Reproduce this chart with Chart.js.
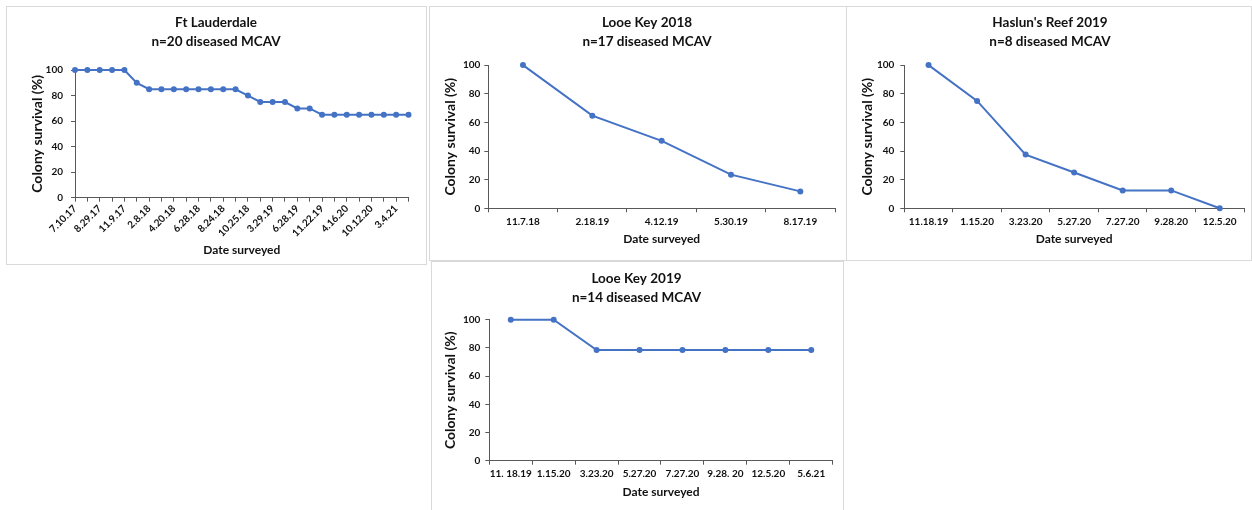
<!DOCTYPE html>
<html>
<head>
<meta charset="utf-8">
<script src="https://cdn.jsdelivr.net/npm/chart.js@4.4.1/dist/chart.umd.min.js"></script>
<style>
  html, body { margin: 0; padding: 0; background: #fff; }
  body { width: 1252px; height: 510px; position: relative; overflow: hidden; }
  .panel { position: absolute; box-sizing: border-box; border: 1px solid #d9d9d9; background: #fff; }
  .panel canvas { display: block; }
</style>
</head>
<body>
<div class="panel" style="left:6px;top:6px;width:421px;height:259px"><canvas id="ftl" width="419" height="257"></canvas></div>
<div class="panel" style="left:429px;top:6px;width:418px;height:255px"><canvas id="lk18" width="416" height="253"></canvas></div>
<div class="panel" style="left:846px;top:6px;width:406px;height:255px"><canvas id="hr19" width="404" height="253"></canvas></div>
<div class="panel" style="left:431px;top:261px;width:413px;height:252px"><canvas id="lk19" width="411" height="250"></canvas></div>

<script>
/* ─── Data ───────────────────────────────────────────────────────────────── */
// Ft Lauderdale: 28 surveys, only every second date is labelled on the axis
const ftlDates    = ['7.10.17', '8.29.17', '11.9.17', '2.8.18', '4.20.18', '6.28.18', '8.24.18',
                     '10.25.18', '3.29.19', '6.28.19', '11.22.19', '4.16.20', '10.12.20', '3.4.21'];
const ftlSurvival = [100, 100, 100, 100, 100, 90, 85, 85, 85, 85, 85, 85, 85, 85,
                     80, 75, 75, 75, 70, 70, 65, 65, 65, 65, 65, 65, 65, 65];

const lk18Dates    = ['11.7.18', '2.18.19', '4.12.19', '5.30.19', '8.17.19'];
const lk18Survival = [100, 64.7, 47.1, 23.5, 11.8];

const hr19Dates    = ['11.18.19', '1.15.20', '3.23.20', '5.27.20', '7.27.20', '9.28.20', '12.5.20'];
const hr19Survival = [100, 75, 37.5, 25, 12.5, 12.5, 0];

const lk19Dates    = ['11. 18.19', '1.15.20', '3.23.20', '5.27.20', '7.27.20', '9.28. 20', '12.5.20', '5.6.21'];
const lk19Survival = [100, 100, 78.6, 78.6, 78.6, 78.6, 78.6, 78.6];

const yTicks = [0, 20, 40, 60, 80, 100];

const ftlCategories = ftlSurvival.map((_, i) => (i % 2 ? '' : ftlDates[i / 2]));

/* ─── Style ──────────────────────────────────────────────────────────────── */
const BLUE = '#4472C4';
const INK  = '#111111';
const AXIS = '#595959';
const FONT = 'Lato, "Open Sans", sans-serif';

function makeChart(id, titleLines, labels, values, lay) {
  new Chart(document.getElementById(id), {
    type: 'line',
    data: {
      labels,
      datasets: [{
        data: values,
        borderColor: BLUE,
        backgroundColor: BLUE,
        borderWidth: 2,
        tension: 0,
        clip: false,
        pointRadius: 3,
        pointBorderWidth: 0,
        pointBackgroundColor: BLUE
      }]
    },
    options: {
      responsive: false,
      animation: false,
      devicePixelRatio: 1,
      layout: { padding: { left: lay.padL, right: lay.padR, top: 0, bottom: lay.padB } },
      plugins: {
        legend: { display: false },
        tooltip: { enabled: false },
        title: {
          display: true,
          text: titleLines,
          color: INK,
          font: { family: FONT, size: 13.5, weight: 'bold', lineHeight: 1.4 },
          padding: { top: lay.titleTop, bottom: lay.titleBottom }
        }
      },
      scales: {
        x: {
          offset: lay.offset,
          border: { display: true, color: AXIS, width: 1 },
          grid: { display: true, drawOnChartArea: false, drawTicks: true, tickLength: 4,
                  color: AXIS, offset: lay.offset },
          ticks: {
            autoSkip: false,
            minRotation: lay.rot, maxRotation: lay.rot,
            padding: lay.rot ? 1 : 3,
            color: INK,
            font: { family: FONT, size: 10, weight: 'bold' }
          },
          title: {
            display: true, text: 'Date surveyed', color: INK,
            font: { family: FONT, size: 12, weight: 'bold', lineHeight: 1.2 },
            padding: { top: 4, bottom: 3.4 }
          },
          afterFit: s => { s.height = lay.xH; }
        },
        y: {
          min: 0, max: 100,
          afterBuildTicks: s => { s.ticks = yTicks.map(v => ({ value: v })); },
          border: { display: true, color: AXIS, width: 1 },
          grid: { display: true, drawOnChartArea: false, drawTicks: true, tickLength: 4, color: AXIS },
          ticks: {
            padding: lay.yTickPad,
            color: INK,
            font: { family: FONT, size: 10, weight: 'bold' }
          },
          title: {
            display: true, text: 'Colony survival (%)', color: INK,
            font: { family: FONT, size: 14, weight: 'bold', lineHeight: 1.2 },
            padding: { top: lay.yTitlePad - 1.8, bottom: 4 }
          },
          afterFit: s => { s.width = lay.yW; }
        }
      }
    }
  });
}

/* ─── Panels ─────────────────────────────────────────────────────────────── */
makeChart('ftl', ['Ft Lauderdale', 'n=20 diseased MCAV'], ftlCategories, ftlSurvival, {
  padL: 16.5, padR: 17.5, padB: 3.4, titleTop: 6.6, titleBottom: 18.7,
  xH: 62.9, yW: 51.5, yTitlePad: 6.9, yTickPad: 8, offset: false, rot: 45
});

makeChart('lk18', ['Looe Key 2018', 'n=17 diseased MCAV'], lk18Dates, lk18Survival, {
  padL: 29, padR: 11, padB: 10.4, titleTop: 6.6, titleBottom: 13.7,
  xH: 41.3, yW: 29.3, yTitlePad: -15.6, yTickPad: 4, offset: true, rot: 0
});

makeChart('hr19', ["Haslun's Reef 2019", 'n=8 diseased MCAV'], hr19Dates, hr19Survival, {
  padL: 9, padR: 7, padB: 10.4, titleTop: 6.6, titleBottom: 13.7,
  xH: 41.3, yW: 48.3, yTitlePad: 5.1, yTickPad: 6, offset: true, rot: 0
});

makeChart('lk19', ['Looe Key 2019', 'n=14 diseased MCAV'], lk19Dates, lk19Survival, {
  padL: 8.3, padR: 10.3, padB: 9.4, titleTop: 7.3, titleBottom: 12.7,
  xH: 41.9, yW: 49, yTitlePad: 3.8, yTickPad: 5, offset: true, rot: 0
});
</script>
</body>
</html>
